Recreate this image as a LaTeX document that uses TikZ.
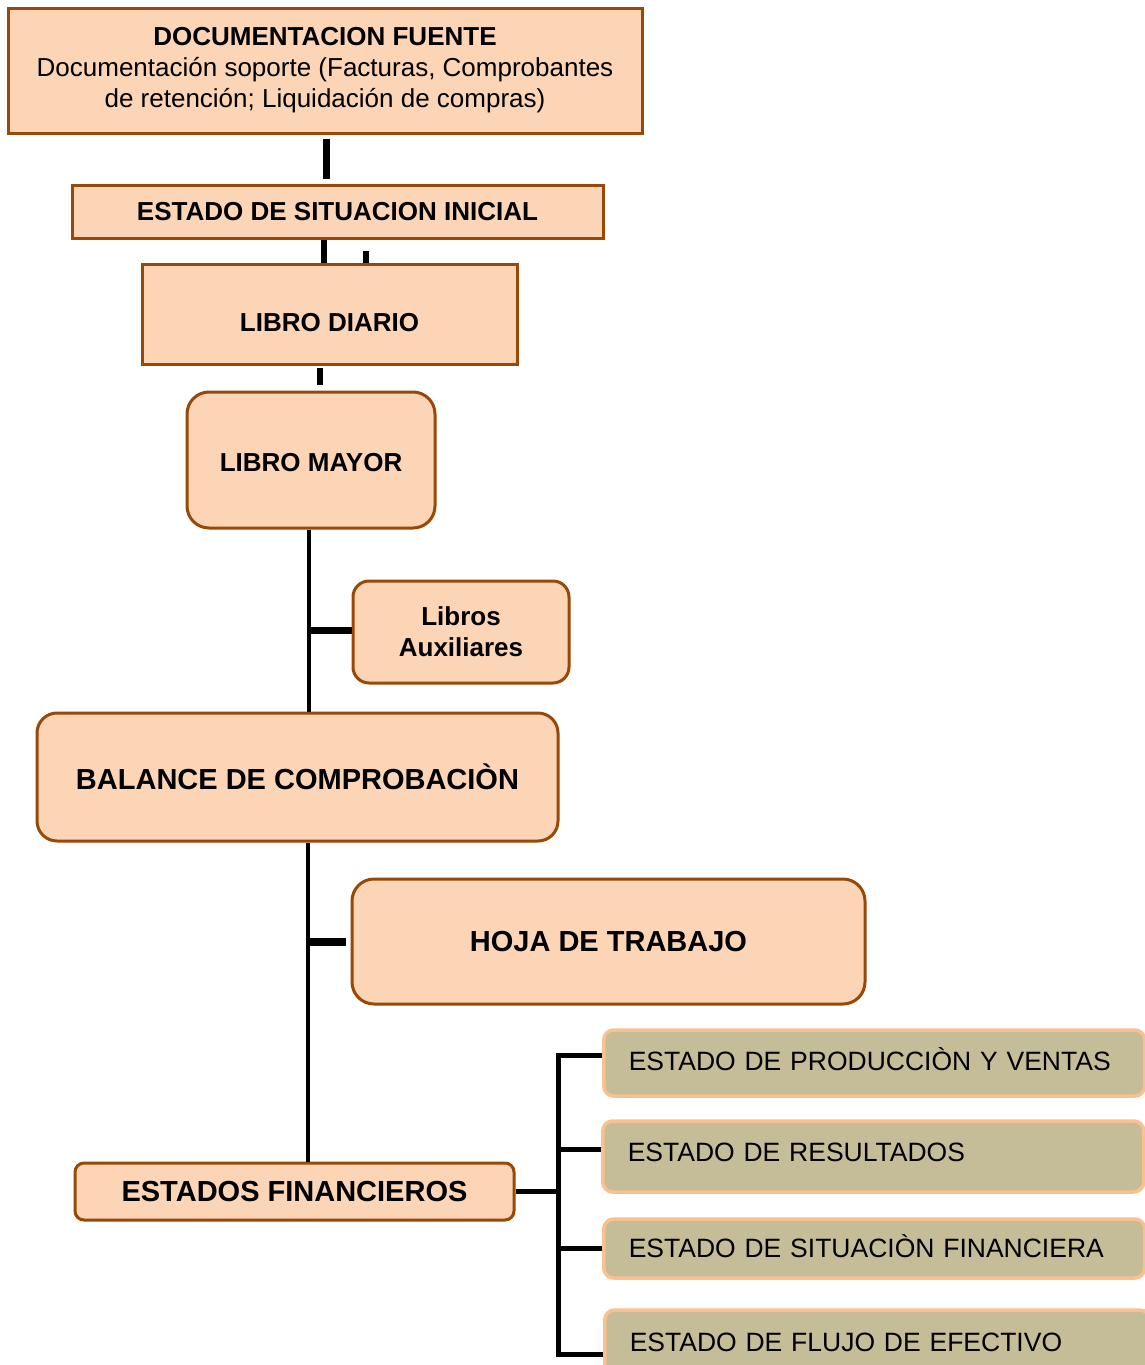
\documentclass[tikz,border=0pt]{standalone}
\usepackage{fontspec}
\setmainfont{Liberation Sans}
\usetikzlibrary{calc}
\definecolor{peach}{HTML}{FBD5B5}
\definecolor{brownb}{HTML}{984807}
\definecolor{tanfill}{HTML}{C4BD97}
\definecolor{lorange}{HTML}{FAC090}
\begin{document}
\begin{tikzpicture}[x=1pt,y=1pt,
  box/.style={draw=brownb, fill=peach, line width=3pt, inner sep=0pt, align=center,
    font=\fontsize{26}{31}\selectfont\bfseries},
  bigbox/.style={box, font=\fontsize{29}{34}\selectfont\bfseries},
  fbox/.style={draw=lorange, fill=tanfill, line width=3.5pt, rounded corners=10pt,
    anchor=west, inner xsep=25pt, inner ysep=0pt, text width=491pt, align=left,
    font=\fontsize{26.5}{31}\selectfont},
  conn/.style={line width=#1, draw=black},
]
\useasboundingbox (0,0) rectangle (1145,-1365);
\clip (0,0) rectangle (1145,-1365);

\node[box, minimum width=634pt, minimum height=125pt] (doc) at (325,-70.5)
  {DOCUMENTACION FUENTE\\\mdseries Documentación soporte (Facturas, Comprobantes\\\mdseries de retención; Liquidación de compras)};
\node[box, minimum width=531pt, minimum height=53pt] (esi) at (337.5,-211.5) {ESTADO DE SITUACION INICIAL};
\node[box, minimum width=375pt, minimum height=100pt, text height=34pt, text depth=0pt] (ld) at (329.5,-314) {LIBRO DIARIO};
\node[box, rounded corners=22pt, minimum width=248pt, minimum height=136pt, text height=22pt, text depth=0pt] (lm) at (311,-460) {LIBRO MAYOR};
\node[box, rounded corners=16pt, minimum width=216pt, minimum height=102pt] (aux) at (461,-632) {Libros\\Auxiliares};
\node[bigbox, rounded corners=20pt, minimum width=521pt, minimum height=128pt] (bal) at (297.5,-777) {BALANCE DE COMPROBACIÒN};
\node[bigbox, rounded corners=22pt, minimum width=513pt, minimum height=125pt] (hoja) at (608.5,-941.5) {HOJA DE TRABAJO};
\node[bigbox, rounded corners=9pt, minimum width=439pt, minimum height=57pt] (ef) at (294.5,-1191.5) {ESTADOS FINANCIEROS};

\node[fbox, minimum height=66pt, text height=19pt, text depth=5pt] (fa) at (602,-1063) {ESTADO DE PRODUCCIÒN Y VENTAS};
\node[fbox, minimum height=71pt, text height=19pt, text depth=10pt] (fb) at (601,-1156.5) {ESTADO DE RESULTADOS};
\node[fbox, minimum height=59pt, text height=19pt, text depth=1pt] (fc) at (602,-1248.5) {ESTADO DE SITUACIÒN FINANCIERA};
\node[fbox, minimum height=64pt, text width=495pt] (fd) at (603,-1342) {ESTADO DE FLUJO DE EFECTIVO};

\draw[conn=7pt] ([xshift=1pt,yshift=-4pt]doc.south) -- ([xshift=-11.5pt,yshift=5pt]esi.north);
\draw[conn=6pt] ([xshift=-13.5pt]esi.south) -- ([xshift=-5.5pt]ld.north);
\coordinate (stubtop) at (366,-251);
\draw[conn=6pt] (stubtop) -- (stubtop |- ld.north);
\draw[conn=6pt] ([xshift=-9.5pt,yshift=-2pt]ld.south) -- ([xshift=9pt,yshift=6pt]lm.north);
\draw[conn=4.5pt] ([xshift=-2pt]lm.south) coordinate (t1) -- ([xshift=11.5pt]bal.north);
\draw[conn=7pt] ([yshift=2pt]t1 |- aux.west) -- ([yshift=2pt]aux.west);
\draw[conn=4.5pt] ([xshift=10.5pt]bal.south) coordinate (t2) -- ([xshift=13.5pt]ef.north);
\draw[conn=8pt] (t2 |- hoja.west) -- ([xshift=-5pt]hoja.west);
\draw[conn=5pt] (ef.east) -- ++(43,0) coordinate (bj);
\draw[conn=5pt] ([yshift=8pt]fa.west) -- ([yshift=8pt]fa.west -| bj) -- ([yshift=-12pt]fd.west -| bj) -- ([yshift=-12pt]fd.west);
\draw[conn=5pt] ([yshift=7.5pt]fb.west) -- ([yshift=7.5pt]fb.west -| bj);
\draw[conn=5pt] (fc.west) -- (fc.west -| bj);
\end{tikzpicture}
\end{document}
